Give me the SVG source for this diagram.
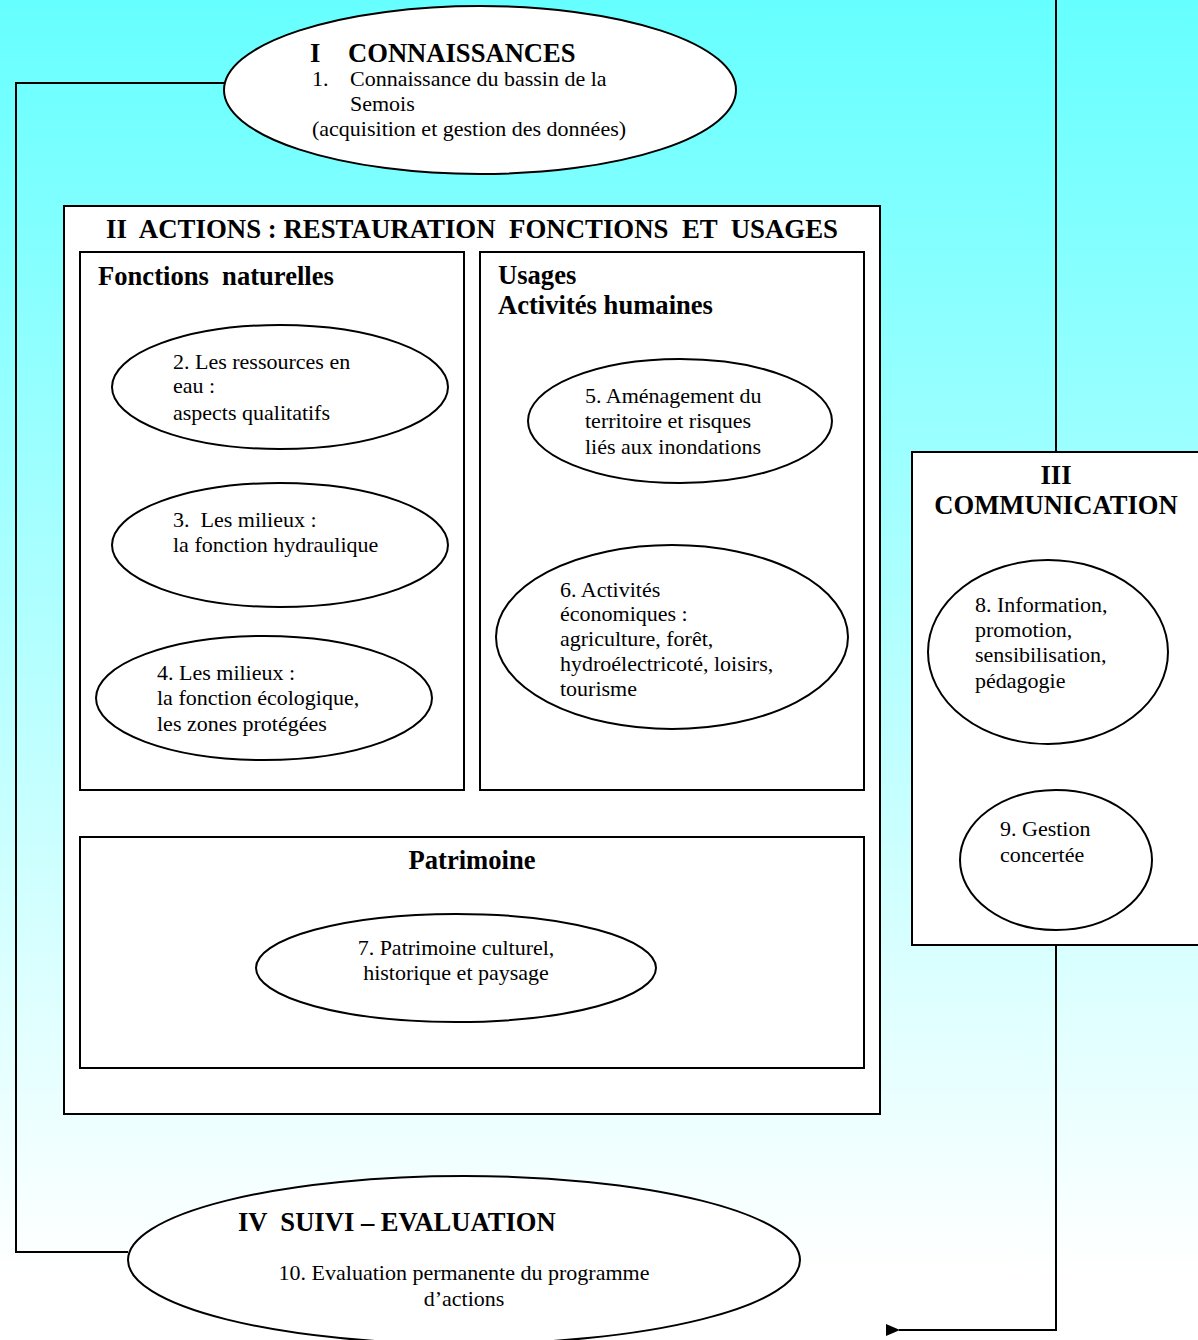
<svg xmlns="http://www.w3.org/2000/svg" width="1198" height="1340" viewBox="0 0 1198 1340">
<defs>
<linearGradient id="bg" x1="0" y1="0" x2="0" y2="1">
<stop offset="0" stop-color="#66FFFF"/>
<stop offset="0.95" stop-color="#FFFFFF"/>
</linearGradient>
<marker id="arr" markerWidth="16" markerHeight="12" refX="1" refY="6" orient="auto" markerUnits="userSpaceOnUse">
<path d="M14,0 L0,6 L14,12 Z" fill="#000"/>
</marker>
</defs>
<style>
.shape{fill:#fff;stroke:#000;stroke-width:2}
.conn{fill:none;stroke:#000;stroke-width:2}
text{font-family:"Liberation Serif","Times New Roman",serif;fill:#000}
.t{font-size:22px}
.h{font-size:26.6px;font-weight:bold}
.c{text-anchor:middle}
</style>
<rect x="0" y="0" width="1198" height="1340" fill="url(#bg)"/>
<g id="connectors">
<polyline class="conn" points="224,83 16,83 16,1252 128,1252"/>
<line class="conn" x1="1056" y1="0" x2="1056" y2="452"/>
<polyline class="conn" points="1056,945 1056,1330 899,1330" marker-end="url(#arr)"/>
</g>
<g id="node-I">
<ellipse class="shape" cx="480" cy="90" rx="256" ry="84"/>
<text class="h" x="310" y="62">I</text>
<text class="h" x="348" y="62">CONNAISSANCES</text>
<text class="t" x="312" y="86">1.</text>
<text class="t" x="350" y="86">Connaissance du bassin de la</text>
<text class="t" x="350" y="111">Semois</text>
<text class="t" x="312" y="136">(acquisition et gestion des données)</text>
</g>
<g id="node-II">
<rect class="shape" x="64" y="206" width="816" height="908"/>
<text class="h" x="106" y="238" textLength="732" lengthAdjust="spacingAndGlyphs" xml:space="preserve">II  ACTIONS : RESTAURATION  FONCTIONS  ET  USAGES</text>
</g>
<g id="box-fonctions">
<rect class="shape" x="80" y="252" width="384" height="538"/>
<text class="h" x="98" y="285" xml:space="preserve">Fonctions  naturelles</text>
</g>
<g id="box-usages">
<rect class="shape" x="480" y="252" width="384" height="538"/>
<text class="h" x="498" y="284">Usages</text>
<text class="h" x="498" y="314">Activités humaines</text>
</g>
<g id="node-2">
<ellipse class="shape" cx="280" cy="387" rx="168" ry="62"/>
<text class="t" x="173" y="369">2. Les ressources en</text>
<text class="t" x="173" y="393">eau :</text>
<text class="t" x="173" y="420">aspects qualitatifs</text>
</g>
<g id="node-3">
<ellipse class="shape" cx="280" cy="545" rx="168" ry="62"/>
<text class="t" x="173" y="527" xml:space="preserve">3.  Les milieux :</text>
<text class="t" x="173" y="552">la fonction hydraulique</text>
</g>
<g id="node-4">
<ellipse class="shape" cx="264" cy="698" rx="168" ry="62"/>
<text class="t" x="157" y="680">4. Les milieux :</text>
<text class="t" x="157" y="705">la fonction écologique,</text>
<text class="t" x="157" y="731">les zones protégées</text>
</g>
<g id="node-5">
<ellipse class="shape" cx="680" cy="421" rx="152" ry="62"/>
<text class="t" x="585" y="403">5. Aménagement du</text>
<text class="t" x="585" y="428">territoire et risques</text>
<text class="t" x="585" y="454">liés aux inondations</text>
</g>
<g id="node-6">
<ellipse class="shape" cx="672" cy="637" rx="176" ry="92"/>
<text class="t" x="560" y="597">6. Activités</text>
<text class="t" x="560" y="621">économiques :</text>
<text class="t" x="560" y="646">agriculture, forêt,</text>
<text class="t" x="560" y="671">hydroélectricoté, loisirs,</text>
<text class="t" x="560" y="696">tourisme</text>
</g>
<g id="box-patrimoine">
<rect class="shape" x="80" y="837" width="784" height="231"/>
<text class="h c" x="472" y="869">Patrimoine</text>
</g>
<g id="node-7">
<ellipse class="shape" cx="456" cy="968" rx="200" ry="54"/>
<text class="t c" x="456" y="955">7. Patrimoine culturel,</text>
<text class="t c" x="456" y="980">historique et paysage</text>
</g>
<g id="node-III">
<rect class="shape" x="912" y="452" width="300" height="493"/>
<text class="h c" x="1056" y="484">III</text>
<text class="h c" x="1056" y="514">COMMUNICATION</text>
</g>
<g id="node-8">
<ellipse class="shape" cx="1048" cy="652" rx="120" ry="92"/>
<text class="t" x="975" y="612">8. Information,</text>
<text class="t" x="975" y="637">promotion,</text>
<text class="t" x="975" y="662">sensibilisation,</text>
<text class="t" x="975" y="688">pédagogie</text>
</g>
<g id="node-9">
<ellipse class="shape" cx="1056" cy="860" rx="96" ry="70"/>
<text class="t" x="1000" y="836">9. Gestion</text>
<text class="t" x="1000" y="862">concertée</text>
</g>
<g id="node-IV">
<ellipse class="shape" cx="464" cy="1260" rx="336" ry="84"/>
<text class="h" x="238" y="1231" xml:space="preserve">IV  SUIVI – EVALUATION</text>
<text class="t c" x="464" y="1280">10. Evaluation permanente du programme</text>
<text class="t c" x="464" y="1306">d’actions</text>
</g>
</svg>
